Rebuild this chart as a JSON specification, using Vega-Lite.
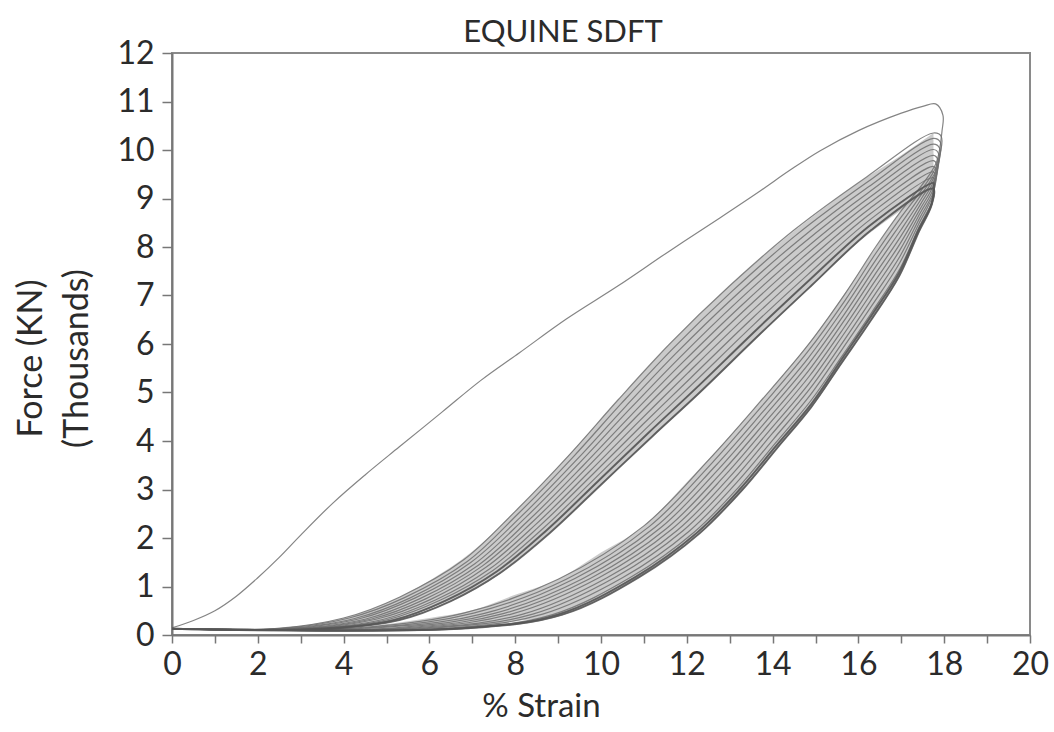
{
  "$schema": "https://vega.github.io/schema/vega-lite/v6.json",
  "width": 858,
  "height": 582,
  "autosize": "none",
  "padding": {"left": 172, "top": 53, "right": 24, "bottom": 97},
  "background": "white",
  "title": {"text": "EQUINE SDFT", "font": "Lato", "fontSize": 31, "fontWeight": "normal", "color": "#2b2b2b", "offset": -12, "dx": -38},
  "config": {"view": {"stroke": "#8a8a8a", "strokeWidth": 2}},
  "datasets": {
    "bands": [
      {"b":"A","s":2.4,"hi":0.13,"lo":0.13},{"b":"A","s":3,"hi":0.19,"lo":0.13},{"b":"A","s":4,"hi":0.35,"lo":0.17},{"b":"A","s":5,"hi":0.66,"lo":0.27},{"b":"A","s":6,"hi":1.12,"lo":0.54},{"b":"A","s":7,"hi":1.72,"lo":0.95},{"b":"A","s":8,"hi":2.55,"lo":1.53},{"b":"A","s":9,"hi":3.47,"lo":2.27},{"b":"A","s":10,"hi":4.45,"lo":3.1},{"b":"A","s":11,"hi":5.43,"lo":3.93},{"b":"A","s":12,"hi":6.34,"lo":4.75},{"b":"A","s":13,"hi":7.2,"lo":5.6},{"b":"A","s":14,"hi":7.97,"lo":6.45},{"b":"A","s":15,"hi":8.67,"lo":7.28},{"b":"A","s":16,"hi":9.32,"lo":8.1},{"b":"A","s":17,"hi":9.89,"lo":8.76},{"b":"A","s":17.75,"hi":10.35,"lo":9.2},
      {"b":"B","s":4.5,"hi":0.16,"lo":0.13},{"b":"B","s":5,"hi":0.22,"lo":0.13},{"b":"B","s":6,"hi":0.35,"lo":0.13},{"b":"B","s":7,"hi":0.51,"lo":0.15},{"b":"B","s":8,"hi":0.83,"lo":0.28},{"b":"B","s":9,"hi":1.15,"lo":0.41},{"b":"B","s":10,"hi":1.7,"lo":0.81},{"b":"B","s":11,"hi":2.25,"lo":1.26},{"b":"B","s":12,"hi":3.15,"lo":1.91},{"b":"B","s":13,"hi":4.1,"lo":2.73},{"b":"B","s":14,"hi":5.11,"lo":3.74},{"b":"B","s":15,"hi":6.19,"lo":4.83},{"b":"B","s":16,"hi":7.46,"lo":6.11},{"b":"B","s":17,"hi":8.75,"lo":7.5},{"b":"B","s":17.5,"hi":9.3,"lo":8.48},{"b":"B","s":17.75,"hi":9.65,"lo":9.2}
    ],
    "loops": [
      {"c":1,"i":0,"s":0,"f":0.15},{"c":1,"i":1,"s":0.5,"f":0.3},{"c":1,"i":2,"s":1.0,"f":0.5},{"c":1,"i":3,"s":1.5,"f":0.8},{"c":1,"i":4,"s":2.0,"f":1.18},{"c":1,"i":5,"s":2.5,"f":1.6},{"c":1,"i":6,"s":3.0,"f":2.06},{"c":1,"i":7,"s":3.75,"f":2.72},{"c":1,"i":8,"s":4.5,"f":3.3},{"c":1,"i":9,"s":5.3,"f":3.88},{"c":1,"i":10,"s":6.3,"f":4.6},{"c":1,"i":11,"s":7.2,"f":5.25},{"c":1,"i":12,"s":8.1,"f":5.82},{"c":1,"i":13,"s":9.2,"f":6.52},{"c":1,"i":14,"s":10.4,"f":7.2},{"c":1,"i":15,"s":11.6,"f":7.92},{"c":1,"i":16,"s":12.77,"f":8.6},{"c":1,"i":17,"s":13.7,"f":9.15},{"c":1,"i":18,"s":14.4,"f":9.58},{"c":1,"i":19,"s":15.1,"f":9.98},{"c":1,"i":20,"s":16.0,"f":10.4},{"c":1,"i":21,"s":17.0,"f":10.76},{"c":1,"i":22,"s":17.5,"f":10.9},{"c":1,"i":23,"s":17.8,"f":10.95},{"c":1,"i":24,"s":17.97,"f":10.72},
      {"c":1,"i":25,"s":17.95,"f":10.4},{"c":1,"i":26,"s":17.82,"f":9.75},{"c":1,"i":27,"s":17.5,"f":9.3},{"c":1,"i":28,"s":17.0,"f":8.75},{"c":1,"i":29,"s":16.4,"f":8.0},{"c":1,"i":30,"s":15.7,"f":7.05},{"c":1,"i":31,"s":14.8,"f":5.95},{"c":1,"i":32,"s":13.7,"f":4.8},{"c":1,"i":33,"s":12.5,"f":3.6},{"c":1,"i":34,"s":11.0,"f":2.25},{"c":1,"i":35,"s":9.0,"f":1.15},{"c":1,"i":36,"s":6.8,"f":0.45},{"c":1,"i":37,"s":4.5,"f":0.16},{"c":1,"i":38,"s":0,"f":0.13},

      {"c":2,"i":0,"s":0,"f":0.13},{"c":2,"i":1,"s":2.4,"f":0.13},{"c":2,"i":2,"s":4.0,"f":0.35},{"c":2,"i":3,"s":5.3,"f":0.78},{"c":2,"i":4,"s":6.8,"f":1.55},{"c":2,"i":5,"s":8.0,"f":2.55},{"c":2,"i":6,"s":9.3,"f":3.75},{"c":2,"i":7,"s":10.4,"f":4.85},{"c":2,"i":8,"s":11.6,"f":6.0},{"c":2,"i":9,"s":13.0,"f":7.2},{"c":2,"i":10,"s":14.5,"f":8.35},{"c":2,"i":11,"s":16.2,"f":9.45},{"c":2,"i":12,"s":17.75,"f":10.35},
      {"c":2,"i":13,"s":17.93,"f":10.28},{"c":2,"i":14,"s":17.81,"f":9.66},{"c":2,"i":15,"s":17.49,"f":9.2},{"c":2,"i":16,"s":17.0,"f":8.62},{"c":2,"i":17,"s":16.39,"f":7.85},{"c":2,"i":18,"s":15.69,"f":6.9},{"c":2,"i":19,"s":14.81,"f":5.83},{"c":2,"i":20,"s":13.74,"f":4.71},{"c":2,"i":21,"s":12.58,"f":3.54},{"c":2,"i":22,"s":11.13,"f":2.24},{"c":2,"i":23,"s":9.19,"f":1.15},{"c":2,"i":24,"s":7.03,"f":0.45},{"c":2,"i":25,"s":4.74,"f":0.16},{"c":2,"i":26,"s":0,"f":0.13},

      {"c":3,"i":0,"s":0,"f":0.13},{"c":3,"i":1,"s":2.51,"f":0.13},{"c":3,"i":2,"s":4.13,"f":0.35},{"c":3,"i":3,"s":5.42,"f":0.77},{"c":3,"i":4,"s":6.89,"f":1.52},{"c":3,"i":5,"s":8.08,"f":2.51},{"c":3,"i":6,"s":9.37,"f":3.69},{"c":3,"i":7,"s":10.48,"f":4.78},{"c":3,"i":8,"s":11.67,"f":5.9},{"c":3,"i":9,"s":13.07,"f":7.1},{"c":3,"i":10,"s":14.54,"f":8.24},{"c":3,"i":11,"s":16.21,"f":9.34},{"c":3,"i":12,"s":17.75,"f":10.24},
      {"c":3,"i":13,"s":17.91,"f":10.16},{"c":3,"i":14,"s":17.8,"f":9.57},{"c":3,"i":15,"s":17.48,"f":9.1},{"c":3,"i":16,"s":16.99,"f":8.48},{"c":3,"i":17,"s":16.38,"f":7.7},{"c":3,"i":18,"s":15.68,"f":6.76},{"c":3,"i":19,"s":14.82,"f":5.7},{"c":3,"i":20,"s":13.78,"f":4.61},{"c":3,"i":21,"s":12.66,"f":3.48},{"c":3,"i":22,"s":11.26,"f":2.22},{"c":3,"i":23,"s":9.38,"f":1.16},{"c":3,"i":24,"s":7.26,"f":0.44},{"c":3,"i":25,"s":4.98,"f":0.16},{"c":3,"i":26,"s":0,"f":0.13},

      {"c":4,"i":0,"s":0,"f":0.13},{"c":4,"i":1,"s":2.62,"f":0.13},{"c":4,"i":2,"s":4.26,"f":0.34},{"c":4,"i":3,"s":5.54,"f":0.76},{"c":4,"i":4,"s":6.97,"f":1.5},{"c":4,"i":5,"s":8.16,"f":2.46},{"c":4,"i":6,"s":9.44,"f":3.62},{"c":4,"i":7,"s":10.56,"f":4.7},{"c":4,"i":8,"s":11.74,"f":5.8},{"c":4,"i":9,"s":13.14,"f":7.0},{"c":4,"i":10,"s":14.58,"f":8.12},{"c":4,"i":11,"s":16.22,"f":9.23},{"c":4,"i":12,"s":17.75,"f":10.12},
      {"c":4,"i":13,"s":17.89,"f":10.04},{"c":4,"i":14,"s":17.78,"f":9.48},{"c":4,"i":15,"s":17.47,"f":9.0},{"c":4,"i":16,"s":16.99,"f":8.35},{"c":4,"i":17,"s":16.37,"f":7.55},{"c":4,"i":18,"s":15.67,"f":6.61},{"c":4,"i":19,"s":14.83,"f":5.58},{"c":4,"i":20,"s":13.82,"f":4.52},{"c":4,"i":21,"s":12.74,"f":3.42},{"c":4,"i":22,"s":11.39,"f":2.21},{"c":4,"i":23,"s":9.57,"f":1.16},{"c":4,"i":24,"s":7.49,"f":0.44},{"c":4,"i":25,"s":5.22,"f":0.15},{"c":4,"i":26,"s":0,"f":0.13},

      {"c":5,"i":0,"s":0,"f":0.13},{"c":5,"i":1,"s":2.73,"f":0.13},{"c":5,"i":2,"s":4.39,"f":0.34},{"c":5,"i":3,"s":5.66,"f":0.76},{"c":5,"i":4,"s":7.06,"f":1.47},{"c":5,"i":5,"s":8.24,"f":2.42},{"c":5,"i":6,"s":9.51,"f":3.56},{"c":5,"i":7,"s":10.64,"f":4.63},{"c":5,"i":8,"s":11.81,"f":5.7},{"c":5,"i":9,"s":13.21,"f":6.9},{"c":5,"i":10,"s":14.62,"f":8.01},{"c":5,"i":11,"s":16.23,"f":9.12},{"c":5,"i":12,"s":17.75,"f":10.01},
      {"c":5,"i":13,"s":17.87,"f":9.92},{"c":5,"i":14,"s":17.77,"f":9.39},{"c":5,"i":15,"s":17.46,"f":8.9},{"c":5,"i":16,"s":16.98,"f":8.21},{"c":5,"i":17,"s":16.36,"f":7.4},{"c":5,"i":18,"s":15.66,"f":6.47},{"c":5,"i":19,"s":14.84,"f":5.45},{"c":5,"i":20,"s":13.86,"f":4.42},{"c":5,"i":21,"s":12.82,"f":3.36},{"c":5,"i":22,"s":11.52,"f":2.19},{"c":5,"i":23,"s":9.76,"f":1.17},{"c":5,"i":24,"s":7.72,"f":0.44},{"c":5,"i":25,"s":5.46,"f":0.15},{"c":5,"i":26,"s":0,"f":0.13},

      {"c":6,"i":0,"s":0,"f":0.13},{"c":6,"i":1,"s":2.84,"f":0.13},{"c":6,"i":2,"s":4.52,"f":0.33},{"c":6,"i":3,"s":5.78,"f":0.75},{"c":6,"i":4,"s":7.14,"f":1.44},{"c":6,"i":5,"s":8.32,"f":2.37},{"c":6,"i":6,"s":9.58,"f":3.49},{"c":6,"i":7,"s":10.72,"f":4.55},{"c":6,"i":8,"s":11.88,"f":5.6},{"c":6,"i":9,"s":13.28,"f":6.8},{"c":6,"i":10,"s":14.66,"f":7.89},{"c":6,"i":11,"s":16.24,"f":9.01},{"c":6,"i":12,"s":17.75,"f":9.89},
      {"c":6,"i":13,"s":17.85,"f":9.8},{"c":6,"i":14,"s":17.76,"f":9.3},{"c":6,"i":15,"s":17.45,"f":8.8},{"c":6,"i":16,"s":16.98,"f":8.08},{"c":6,"i":17,"s":16.35,"f":7.25},{"c":6,"i":18,"s":15.65,"f":6.32},{"c":6,"i":19,"s":14.85,"f":5.33},{"c":6,"i":20,"s":13.9,"f":4.33},{"c":6,"i":21,"s":12.9,"f":3.3},{"c":6,"i":22,"s":11.65,"f":2.18},{"c":6,"i":23,"s":9.95,"f":1.18},{"c":6,"i":24,"s":7.95,"f":0.44},{"c":6,"i":25,"s":5.7,"f":0.15},{"c":6,"i":26,"s":0,"f":0.13},

      {"c":7,"i":0,"s":0,"f":0.13},{"c":7,"i":1,"s":2.95,"f":0.13},{"c":7,"i":2,"s":4.65,"f":0.33},{"c":7,"i":3,"s":5.9,"f":0.74},{"c":7,"i":4,"s":7.23,"f":1.42},{"c":7,"i":5,"s":8.4,"f":2.33},{"c":7,"i":6,"s":9.65,"f":3.43},{"c":7,"i":7,"s":10.8,"f":4.48},{"c":7,"i":8,"s":11.95,"f":5.5},{"c":7,"i":9,"s":13.35,"f":6.7},{"c":7,"i":10,"s":14.7,"f":7.78},{"c":7,"i":11,"s":16.25,"f":8.9},{"c":7,"i":12,"s":17.75,"f":9.78},
      {"c":7,"i":13,"s":17.83,"f":9.68},{"c":7,"i":14,"s":17.75,"f":9.21},{"c":7,"i":15,"s":17.44,"f":8.7},{"c":7,"i":16,"s":16.97,"f":7.94},{"c":7,"i":17,"s":16.34,"f":7.1},{"c":7,"i":18,"s":15.64,"f":6.18},{"c":7,"i":19,"s":14.86,"f":5.2},{"c":7,"i":20,"s":13.94,"f":4.23},{"c":7,"i":21,"s":12.98,"f":3.24},{"c":7,"i":22,"s":11.78,"f":2.16},{"c":7,"i":23,"s":10.14,"f":1.18},{"c":7,"i":24,"s":8.18,"f":0.43},{"c":7,"i":25,"s":5.94,"f":0.15},{"c":7,"i":26,"s":0,"f":0.13},

      {"c":8,"i":0,"s":0,"f":0.13},{"c":8,"i":1,"s":3.06,"f":0.13},{"c":8,"i":2,"s":4.78,"f":0.33},{"c":8,"i":3,"s":6.02,"f":0.73},{"c":8,"i":4,"s":7.31,"f":1.39},{"c":8,"i":5,"s":8.48,"f":2.28},{"c":8,"i":6,"s":9.72,"f":3.36},{"c":8,"i":7,"s":10.88,"f":4.4},{"c":8,"i":8,"s":12.02,"f":5.4},{"c":8,"i":9,"s":13.42,"f":6.6},{"c":8,"i":10,"s":14.74,"f":7.66},{"c":8,"i":11,"s":16.26,"f":8.79},{"c":8,"i":12,"s":17.75,"f":9.66},
      {"c":8,"i":13,"s":17.81,"f":9.56},{"c":8,"i":14,"s":17.74,"f":9.12},{"c":8,"i":15,"s":17.43,"f":8.6},{"c":8,"i":16,"s":16.97,"f":7.81},{"c":8,"i":17,"s":16.33,"f":6.95},{"c":8,"i":18,"s":15.63,"f":6.03},{"c":8,"i":19,"s":14.87,"f":5.08},{"c":8,"i":20,"s":13.98,"f":4.14},{"c":8,"i":21,"s":13.06,"f":3.18},{"c":8,"i":22,"s":11.91,"f":2.15},{"c":8,"i":23,"s":10.33,"f":1.19},{"c":8,"i":24,"s":8.41,"f":0.43},{"c":8,"i":25,"s":6.18,"f":0.15},{"c":8,"i":26,"s":0,"f":0.13},

      {"c":9,"i":0,"s":0,"f":0.13},{"c":9,"i":1,"s":3.17,"f":0.13},{"c":9,"i":2,"s":4.91,"f":0.32},{"c":9,"i":3,"s":6.14,"f":0.72},{"c":9,"i":4,"s":7.4,"f":1.36},{"c":9,"i":5,"s":8.56,"f":2.24},{"c":9,"i":6,"s":9.79,"f":3.3},{"c":9,"i":7,"s":10.96,"f":4.33},{"c":9,"i":8,"s":12.09,"f":5.3},{"c":9,"i":9,"s":13.49,"f":6.5},{"c":9,"i":10,"s":14.78,"f":7.55},{"c":9,"i":11,"s":16.27,"f":8.68},{"c":9,"i":12,"s":17.75,"f":9.55},
      {"c":9,"i":13,"s":17.79,"f":9.44},{"c":9,"i":14,"s":17.72,"f":9.03},{"c":9,"i":15,"s":17.42,"f":8.5},{"c":9,"i":16,"s":16.96,"f":7.67},{"c":9,"i":17,"s":16.32,"f":6.8},{"c":9,"i":18,"s":15.62,"f":5.89},{"c":9,"i":19,"s":14.88,"f":4.95},{"c":9,"i":20,"s":14.02,"f":4.04},{"c":9,"i":21,"s":13.14,"f":3.12},{"c":9,"i":22,"s":12.04,"f":2.13},{"c":9,"i":23,"s":10.52,"f":1.19},{"c":9,"i":24,"s":8.64,"f":0.43},{"c":9,"i":25,"s":6.42,"f":0.14},{"c":9,"i":26,"s":0,"f":0.13},

      {"c":10,"i":0,"s":0,"f":0.13},{"c":10,"i":1,"s":3.28,"f":0.13},{"c":10,"i":2,"s":5.04,"f":0.32},{"c":10,"i":3,"s":6.26,"f":0.72},{"c":10,"i":4,"s":7.48,"f":1.33},{"c":10,"i":5,"s":8.64,"f":2.19},{"c":10,"i":6,"s":9.86,"f":3.23},{"c":10,"i":7,"s":11.04,"f":4.25},{"c":10,"i":8,"s":12.16,"f":5.2},{"c":10,"i":9,"s":13.56,"f":6.4},{"c":10,"i":10,"s":14.82,"f":7.43},{"c":10,"i":11,"s":16.28,"f":8.57},{"c":10,"i":12,"s":17.75,"f":9.43},
      {"c":10,"i":13,"s":17.77,"f":9.32},{"c":10,"i":14,"s":17.71,"f":8.94},{"c":10,"i":15,"s":17.41,"f":8.4},{"c":10,"i":16,"s":16.96,"f":7.54},{"c":10,"i":17,"s":16.31,"f":6.65},{"c":10,"i":18,"s":15.61,"f":5.74},{"c":10,"i":19,"s":14.89,"f":4.83},{"c":10,"i":20,"s":14.06,"f":3.95},{"c":10,"i":21,"s":13.22,"f":3.06},{"c":10,"i":22,"s":12.17,"f":2.12},{"c":10,"i":23,"s":10.71,"f":1.2},{"c":10,"i":24,"s":8.87,"f":0.42},{"c":10,"i":25,"s":6.66,"f":0.14},{"c":10,"i":26,"s":0,"f":0.13},

      {"c":11,"i":0,"s":0,"f":0.13},{"c":11,"i":1,"s":3.39,"f":0.13},{"c":11,"i":2,"s":5.17,"f":0.31},{"c":11,"i":3,"s":6.38,"f":0.71},{"c":11,"i":4,"s":7.57,"f":1.31},{"c":11,"i":5,"s":8.72,"f":2.15},{"c":11,"i":6,"s":9.93,"f":3.17},{"c":11,"i":7,"s":11.12,"f":4.18},{"c":11,"i":8,"s":12.23,"f":5.1},{"c":11,"i":9,"s":13.63,"f":6.3},{"c":11,"i":10,"s":14.86,"f":7.32},{"c":11,"i":11,"s":16.29,"f":8.46},{"c":11,"i":12,"s":17.75,"f":9.32},
      {"c":11,"i":13,"s":17.76,"f":9.26},{"c":11,"i":14,"s":17.71,"f":8.9},{"c":11,"i":15,"s":17.4,"f":8.35},{"c":11,"i":16,"s":16.95,"f":7.47},{"c":11,"i":17,"s":16.3,"f":6.58},{"c":11,"i":18,"s":15.6,"f":5.67},{"c":11,"i":19,"s":14.9,"f":4.76},{"c":11,"i":20,"s":14.08,"f":3.9},{"c":11,"i":21,"s":13.26,"f":3.03},{"c":11,"i":22,"s":12.24,"f":2.11},{"c":11,"i":23,"s":10.81,"f":1.2},{"c":11,"i":24,"s":8.99,"f":0.42},{"c":11,"i":25,"s":6.78,"f":0.14},{"c":11,"i":26,"s":0,"f":0.13},

      {"c":12,"i":0,"s":0,"f":0.13},{"c":12,"i":1,"s":3.5,"f":0.12},{"c":12,"i":2,"s":5.3,"f":0.31},{"c":12,"i":3,"s":6.5,"f":0.7},{"c":12,"i":4,"s":7.65,"f":1.28},{"c":12,"i":5,"s":8.8,"f":2.1},{"c":12,"i":6,"s":10.0,"f":3.1},{"c":12,"i":7,"s":11.2,"f":4.1},{"c":12,"i":8,"s":12.3,"f":5.0},{"c":12,"i":9,"s":13.7,"f":6.2},{"c":12,"i":10,"s":14.9,"f":7.2},{"c":12,"i":11,"s":16.3,"f":8.35},{"c":12,"i":12,"s":17.75,"f":9.2},
      {"c":12,"i":13,"s":17.7,"f":8.85},{"c":12,"i":14,"s":17.4,"f":8.3},{"c":12,"i":15,"s":16.95,"f":7.4},{"c":12,"i":16,"s":16.3,"f":6.5},{"c":12,"i":17,"s":15.6,"f":5.6},{"c":12,"i":18,"s":14.9,"f":4.7},{"c":12,"i":19,"s":14.1,"f":3.85},{"c":12,"i":20,"s":13.3,"f":3.0},{"c":12,"i":21,"s":12.3,"f":2.1},{"c":12,"i":22,"s":10.9,"f":1.2},{"c":12,"i":23,"s":9.1,"f":0.42},{"c":12,"i":24,"s":6.9,"f":0.14},{"c":12,"i":25,"s":0,"f":0.13}
    ]
  },
  "layer": [
    {
      "data": {"name": "bands"},
      "mark": {"type": "area", "interpolate": "monotone", "fill": "#bababa", "opacity": 0.75},
      "encoding": {
        "x": {"field": "s", "type": "quantitative", "scale": {"domain": [0, 20], "nice": false}, "title": "% Strain"},
        "y": {"field": "hi", "type": "quantitative", "scale": {"domain": [0, 12], "nice": false}, "title": ["Force (KN)", "(Thousands)"]},
        "y2": {"field": "lo"},
        "detail": {"field": "b", "type": "nominal"}
      }
    },
    {
      "data": {"name": "loops"},
      "mark": {"type": "line", "interpolate": "catmull-rom", "stroke": "#6e6e6e", "strokeWidth": 1.2, "opacity": 0.85},
      "encoding": {
        "x": {
          "field": "s", "type": "quantitative",
          "scale": {"domain": [0, 20], "nice": false},
          "title": "% Strain",
          "axis": {
            "values": [0,1,2,3,4,5,6,7,8,9,10,11,12,13,14,15,16,17,18,19,20],
            "labelExpr": "datum.value % 2 === 0 ? datum.label : ''",
            "grid": false,
            "tickSize": 8, "tickWidth": 1.5, "tickColor": "#777", "domainColor": "#777", "domainWidth": 2,
            "labelFont": "Lato", "labelFontSize": 32, "labelColor": "#2b2b2b", "labelPadding": 6, "labelFlush": false, "labelOverlap": false,
            "titleFont": "Lato", "titleFontSize": 33, "titleFontWeight": "normal", "titleColor": "#2b2b2b", "titlePadding": 10, "titleX": 369
          }
        },
        "y": {
          "field": "f", "type": "quantitative",
          "scale": {"domain": [0, 12], "nice": false},
          "title": ["Force (KN)", "(Thousands)"],
          "axis": {
            "values": [0,1,2,3,4,5,6,7,8,9,10,11,12],
            "grid": false,
            "tickSize": 10, "tickWidth": 1.5, "tickColor": "#777", "domainColor": "#777", "domainWidth": 2,
            "labelFont": "Lato", "labelFontSize": 32, "labelColor": "#2b2b2b", "labelPadding": 8, "labelOverlap": false,
            "titleFont": "Lato", "titleFontSize": 34, "titleFontWeight": "normal", "titleColor": "#2b2b2b", "titleLineHeight": 46, "titlePadding": 22, "titleY": 305
          }
        },
        "detail": {"field": "c", "type": "nominal"},
        "order": {"field": "i", "type": "quantitative"}
      }
    },
    {
      "data": {"name": "loops"},
      "transform": [{"filter": "datum.c >= 11"}],
      "mark": {"type": "line", "interpolate": "catmull-rom", "stroke": "#555555", "strokeWidth": 2, "opacity": 0.8},
      "encoding": {
        "x": {"field": "s", "type": "quantitative", "title": "% Strain"},
        "y": {"field": "f", "type": "quantitative", "title": ["Force (KN)", "(Thousands)"]},
        "detail": {"field": "c", "type": "nominal"},
        "order": {"field": "i", "type": "quantitative"}
      }
    }
  ]
}
